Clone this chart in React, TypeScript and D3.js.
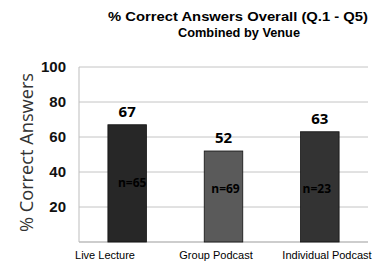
import React from 'react';
import { scaleBand, scaleLinear, scalePoint } from 'd3';

const venues = ['Live Lecture', 'Group Podcast', 'Individual Podcast'];
const percentCorrect = [67, 52, 63];
const sampleSizes = [65, 69, 23];
const barColors = ['#272727', '#5a5a5a', '#333333'];
const yTicks = [20, 40, 60, 80, 100];

const W = 380;
const H = 263;
const left = 79;
const right = 368;
const top = 67;
const bottom = 242;

const App = () => {
    const x = scaleBand<string>()
        .domain(venues)
        .range([left, right])
        .paddingInner(0.6)
        .paddingOuter(0.3);

    // category labels sit a bit off the bar centres in the original
    const xLabel = scalePoint<string>().domain(venues).range([105, 327]);

    const y = scaleLinear().domain([0, 100]).range([bottom, top]);

    const nOffset = [5, 2, -3];
    const nY = [187, 193, 193];

    return (
        <svg width={W} height={H} style={{ position: 'absolute', left: 0, top: 0 }}>
            <rect width={W} height={H} fill="#fff" />
            <g fontFamily="Liberation Sans, Arial, sans-serif" fontWeight="bold" fontSize={13.5} textAnchor="middle" fill="#000">
                <text x={238} y={21} textLength={260} lengthAdjust="spacingAndGlyphs">% Correct Answers Overall (Q.1 - Q5)</text>
                <text x={239} y={37} textLength={122} lengthAdjust="spacingAndGlyphs">Combined by Venue</text>
            </g>

            {yTicks.map((t) => (
                <line key={t} x1={left} x2={right} y1={y(t)} y2={y(t)} stroke="#c4c4c4" strokeWidth={1} />
            ))}
            <line x1={left} x2={left} y1={top} y2={bottom} stroke="#bdbdbd" />
            <line x1={left} x2={right} y1={bottom} y2={bottom} stroke="#bdbdbd" strokeWidth={1.5} />

            {yTicks.map((t) => (
                <text key={t} x={66} y={y(t) + 5} textAnchor="end" fontFamily="Liberation Sans, Arial, sans-serif"
                    fontWeight="bold" fontSize={15} fill="#111">{t}</text>
            ))}

            <text transform="translate(33, 152.5) rotate(-90)" textAnchor="middle" textLength={159} lengthAdjust="spacingAndGlyphs"
                fontFamily="Open Sans, sans-serif" fontSize={19} fill="#333">% Correct Answers</text>

            {venues.map((v, i) => (
                <g key={v}>
                    <rect x={x(v)} y={y(percentCorrect[i])} width={x.bandwidth()} height={bottom - y(percentCorrect[i])}
                        fill={barColors[i]} stroke="#111" strokeWidth={0.8} />
                    <text x={x(v)! + x.bandwidth() / 2} y={y(percentCorrect[i]) - 8} textAnchor="middle"
                        fontFamily="Open Sans, sans-serif" fontWeight="bold" fontSize={15} fill="#000">{percentCorrect[i]}</text>
                    <text x={x(v)! + x.bandwidth() / 2 + nOffset[i]} y={nY[i]} textAnchor="middle"
                        fontFamily="Open Sans, sans-serif" fontWeight="bold" fontSize={12} fill="#000">n={sampleSizes[i]}</text>
                    <text x={xLabel(v)} y={259} textAnchor="middle" fontFamily="Liberation Sans, Arial, sans-serif"
                        fontSize={11} fill="#000">{v}</text>
                </g>
            ))}
        </svg>
    );
};

export default App;
